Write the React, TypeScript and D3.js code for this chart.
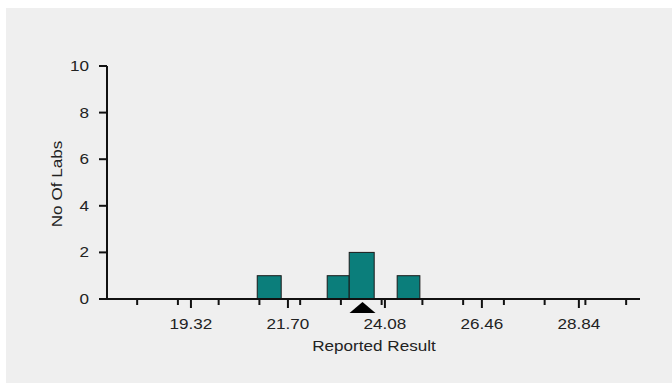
import React, { useEffect, useRef } from "react";
import * as d3 from "d3";

const binStarts = [20.947, 22.664, 23.204, 24.381];
const binEnds = [21.535, 23.204, 23.817, 24.938];
const labCounts = [1, 1, 2, 1];
const labeledTicks = [19.32, 21.7, 24.08, 26.46, 28.84];
const minorTicks = [18, 19, 20, 21, 22, 23, 24, 25, 26, 27, 28, 29, 30];
const yTicks = [0, 2, 4, 6, 8, 10];
const assignedValue = 23.53;

const W = 672;
const H = 383;
const SX = 1.14;

export default function App() {
  const ref = useRef<SVGSVGElement>(null);
  useEffect(() => {
    const svg = d3.select(ref.current);
    svg.selectAll("*").remove();
    const font = "'Liberation Sans', Arial, sans-serif";
    svg.append("rect").attr("x", 6).attr("y", 8).attr("width", W - 6).attr("height", H - 8).attr("fill", "#efefef");

    const x = d3.scaleLinear().domain([17.26, 30.34]).range([107, 640]);
    const y = d3.scaleLinear().domain([0, 10]).range([299, 66]);

    // bars
    const bars = binStarts.map((s, i) => ({ x0: s, x1: binEnds[i], c: labCounts[i] }));
    svg.append("g").selectAll("rect").data(bars).join("rect")
      .attr("x", (d) => x(d.x0))
      .attr("y", (d) => y(d.c))
      .attr("width", (d) => x(d.x1) - x(d.x0))
      .attr("height", (d) => y(0) - y(d.c))
      .attr("fill", "#0b7e7b")
      .attr("stroke", "#1a1a1a")
      .attr("stroke-width", 1);

    // x axis line
    svg.append("line").attr("x1", 107).attr("x2", 640).attr("y1", 299).attr("y2", 299)
      .attr("stroke", "#111").attr("stroke-width", 2);
    svg.append("g").selectAll("line").data(minorTicks).join("line")
      .attr("x1", (d) => x(d)).attr("x2", (d) => x(d))
      .attr("y1", 299).attr("y2", 305)
      .attr("stroke", "#111").attr("stroke-width", 2);
    svg.append("g").selectAll("line").data(labeledTicks).join("line")
      .attr("x1", (d) => x(d)).attr("x2", (d) => x(d))
      .attr("y1", 299).attr("y2", 308)
      .attr("stroke", "#111").attr("stroke-width", 2);
    svg.append("g").selectAll("text").data(labeledTicks).join("text")
      .attr("transform", (d) => `translate(${x(d)},329) scale(${SX},1)`)
      .attr("text-anchor", "middle")
      .attr("font-family", font).attr("font-size", 15).attr("fill", "#222")
      .text((d) => d.toFixed(2));

    // y axis
    svg.append("line").attr("x1", 107).attr("x2", 107).attr("y1", 66).attr("y2", 300)
      .attr("stroke", "#111").attr("stroke-width", 2);
    svg.append("g").selectAll("line").data(yTicks).join("line")
      .attr("x1", 99).attr("x2", 107)
      .attr("y1", (d) => y(d)).attr("y2", (d) => y(d))
      .attr("stroke", "#111").attr("stroke-width", 2);
    svg.append("g").selectAll("text").data(yTicks).join("text")
      .attr("transform", (d) => `translate(89,${y(d) + 5}) scale(${SX},1)`)
      .attr("text-anchor", "end")
      .attr("font-family", font).attr("font-size", 15).attr("fill", "#222")
      .text((d) => String(d));

    // triangle marker
    const cx = x(assignedValue);
    svg.append("path")
      .attr("d", `M${cx - 13},313 L${cx + 13},313 L${cx},302 Z`)
      .attr("fill", "#000");

    // titles
    svg.append("text")
      .attr("transform", `translate(374,351) scale(${SX},1)`)
      .attr("text-anchor", "middle")
      .attr("font-family", font).attr("font-size", 15).attr("fill", "#222")
      .text("Reported Result");
    svg.append("text")
      .attr("transform", `translate(62,184) rotate(-90) scale(${SX},1)`)
      .attr("text-anchor", "middle")
      .attr("font-family", font).attr("font-size", 15).attr("fill", "#222")
      .text("No Of Labs");
  }, []);
  return (
    <svg ref={ref} width={W} height={H} style={{ position: "absolute", left: 0, top: 0, background: "#fff" }} />
  );
}
